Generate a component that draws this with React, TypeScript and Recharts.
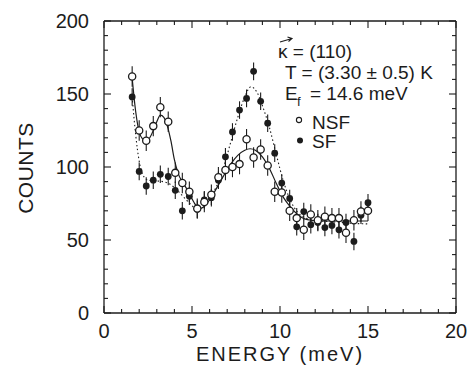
import { ComposedChart, Scatter, Line, XAxis, YAxis, ErrorBar } from 'recharts';

// measured points (energy in meV, counts)
const energy = [1.6, 2.0, 2.4, 2.8, 3.2, 3.65, 4.05, 4.45, 4.85, 5.3, 5.7, 6.1, 6.5, 6.9, 7.3, 7.7, 8.1, 8.5, 8.9, 9.3, 9.7, 10.1, 10.55, 10.95, 11.35, 11.75, 12.15, 12.55, 12.95, 13.35, 13.75, 14.2, 14.6, 15.0];
const nsfCounts = [162, 125, 118, 128, 141, 131, 96, 89, 83, 71.5, 76, 81, 93, 98, 100, 102, 119, 106.5, 112, 101, 83, 82.5, 70, 65, 57, 67.5, 63.5, 66, 65, 65, 55, 63.5, 69.5, 70];
const sfCounts = [148, 97, 87, 91, 95, 93.5, 84, 70, 80, 71, 77.5, 79, 91, 107, 124, 139, 147, 165.5, 145, 130, 109.5, 89, 78.5, 59, 69.5, 60.5, 62, 58.5, 60, 57, 62, 49, 67, 75.5];
const nsfErr = 7;
const sfErr = 6;

// fitted curves
const nsfFitEnergy = [1.6, 1.8, 2.0, 2.2, 2.4, 2.6, 2.8, 3.0, 3.2, 3.4, 3.6, 3.8, 4.0, 4.2, 4.5, 4.8, 5.1, 5.4, 5.7, 6.0, 6.4, 6.8, 7.2, 7.6, 8.0, 8.3, 8.6, 9.0, 9.4, 9.8, 10.2, 10.6, 11.0, 11.4, 11.8, 12.5, 13.5, 14.5, 15.0];
const nsfFitCounts = [161, 138, 124, 119, 117.5, 120, 125, 131, 135.5, 134, 128, 118, 105, 96, 89, 83, 76, 71.5, 73, 77.5, 85.5, 94, 102, 108, 111.5, 112.5, 111.5, 107, 99, 88.5, 79, 72.5, 67.5, 64.5, 63.5, 63, 63, 63, 63];
const sfFitEnergy = [1.6, 1.8, 2.0, 2.2, 2.5, 3.0, 3.5, 4.0, 4.4, 4.8, 5.2, 5.6, 6.0, 6.4, 6.8, 7.2, 7.6, 8.0, 8.35, 8.7, 9.0, 9.4, 9.8, 10.2, 10.6, 11.0, 11.4, 12.0, 13.0, 14.0, 15.0];
const sfFitCounts = [148, 122, 104, 95, 91, 90.5, 89.5, 86, 81, 76, 72, 73, 78.5, 87, 100, 117, 134, 148, 155, 151, 142, 127, 108, 90, 77, 69, 65.5, 63.5, 62.5, 61.5, 61];

const xTicks = [0, 1, 2, 3, 4, 5, 6, 7, 8, 9, 10, 11, 12, 13, 14, 15, 16, 17, 18, 19, 20];
const yTicks = [0, 10, 20, 30, 40, 50, 60, 70, 80, 90, 100, 110, 120, 130, 140, 150, 160, 170, 180, 190, 200];

const nsfData = energy.map((x, i) => ({ x, y: nsfCounts[i], err: nsfErr }));
const sfData = energy.map((x, i) => ({ x, y: sfCounts[i], err: sfErr }));
const nsfFit = nsfFitEnergy.map((x, i) => ({ x, y: nsfFitCounts[i] }));
const sfFit = sfFitEnergy.map((x, i) => ({ x, y: sfFitCounts[i] }));

const INK = '#1c1c1c';
const FONT = '"Liberation Sans", Arial, sans-serif';

function BottomTick({ x, y, payload }: any) {
  const major = payload.value % 5 === 0;
  return (
    <g>
      <line x1={x} y1={y} x2={x} y2={y - (major ? 7 : 4)} stroke={INK} strokeWidth={1.1} />
      {major && (
        <text x={x} y={y + 25} textAnchor="middle" fontSize={20} fill={INK} fontFamily={FONT}>
          {payload.value}
        </text>
      )}
    </g>
  );
}

function TopTick({ x, y, payload }: any) {
  const major = payload.value % 5 === 0;
  return <line x1={x} y1={y} x2={x} y2={y + (major ? 7 : 4)} stroke={INK} strokeWidth={1.1} />;
}

function LeftTick({ x, y, payload }: any) {
  const major = payload.value % 50 === 0;
  return (
    <g>
      <line x1={x} y1={y} x2={x + (major ? 7 : 4)} y2={y} stroke={INK} strokeWidth={1.1} />
      {major && (
        <text x={x - 15} y={y + 7} textAnchor="end" fontSize={20} fill={INK} fontFamily={FONT}>
          {payload.value}
        </text>
      )}
    </g>
  );
}

function RightTick({ x, y, payload }: any) {
  const major = payload.value % 50 === 0;
  return <line x1={x} y1={y} x2={x - (major ? 7 : 4)} y2={y} stroke={INK} strokeWidth={1.1} />;
}

const OpenCircle = (p: any) => (
  <circle cx={p.cx} cy={p.cy} r={3.6} fill="#fff" stroke={INK} strokeWidth={1.3} />
);
const FilledCircle = (p: any) => <circle cx={p.cx} cy={p.cy} r={3.4} fill={INK} />;

export default function App() {
  return (
    <div style={{ position: 'absolute', left: 0, top: 0, width: 471, height: 378, background: '#fff', fontFamily: FONT }}>
      <ComposedChart width={471} height={378} margin={{ top: 20, right: 10, bottom: 25, left: 44 }}>
        <XAxis
          type="number"
          dataKey="x"
          domain={[0, 20]}
          ticks={xTicks}
          interval={0}
          tick={<BottomTick />}
          tickSize={0}
          tickMargin={0}
          height={40}
          allowDataOverflow
          axisLine={{ stroke: INK, strokeWidth: 1.3 }}
        />
        <XAxis
          xAxisId="top"
          orientation="top"
          type="number"
          dataKey="x"
          domain={[0, 20]}
          ticks={xTicks}
          interval={0}
          tick={<TopTick />}
          tickSize={0}
          tickMargin={0}
          height={1}
          allowDataOverflow
          axisLine={{ stroke: INK, strokeWidth: 1.3 }}
        />
        <YAxis
          type="number"
          domain={[0, 200]}
          ticks={yTicks}
          interval={0}
          tick={<LeftTick />}
          tickSize={0}
          tickMargin={0}
          width={60}
          allowDataOverflow
          axisLine={{ stroke: INK, strokeWidth: 1.3 }}
        />
        <YAxis
          yAxisId="right"
          orientation="right"
          type="number"
          domain={[0, 200]}
          ticks={yTicks}
          interval={0}
          tick={<RightTick />}
          tickSize={0}
          tickMargin={0}
          width={5}
          allowDataOverflow
          axisLine={{ stroke: INK, strokeWidth: 1.3 }}
        />
        <Line data={sfFit} dataKey="y" type="monotone" stroke={INK} strokeWidth={1.1} strokeDasharray="1.5 2.5" dot={false} activeDot={false} isAnimationActive={false} />
        <Line data={nsfFit} dataKey="y" type="monotone" stroke={INK} strokeWidth={1.2} dot={false} activeDot={false} isAnimationActive={false} />
        <Scatter data={sfData} dataKey="y" shape={FilledCircle} isAnimationActive={false}>
          <ErrorBar dataKey="err" direction="y" width={0} stroke={INK} strokeWidth={1.1} isAnimationActive={false} />
        </Scatter>
        <Scatter data={nsfData} dataKey="y" shape={OpenCircle} isAnimationActive={false}>
          <ErrorBar dataKey="err" direction="y" width={0} stroke={INK} strokeWidth={1.1} isAnimationActive={false} />
        </Scatter>
      </ComposedChart>
      <svg width={471} height={378} style={{ position: 'absolute', left: 0, top: 0, pointerEvents: 'none' }}>
        <g fill={INK} fontFamily={FONT}>
          <text transform="translate(33,168) rotate(-90)" textAnchor="middle" fontSize={21} letterSpacing={0.5}>COUNTS</text>
          <text x={280} y={361} textAnchor="middle" fontSize={20} letterSpacing={2}>ENERGY (meV)</text>
          <text x={278} y={58} fontSize={19}>κ = (110)</text>
          <path d="M280 42 L292 38.5 M287.5 37 L292 38.5 L288.5 41.5" stroke={INK} strokeWidth={1.1} fill="none" />
          <text x={285} y={79} fontSize={19}>T = (3.30 ± 0.5) K</text>
          <text x={285} y={100} fontSize={19}>E</text>
          <text x={297} y={106} fontSize={13}>f</text>
          <text x={310} y={100} fontSize={19}>= 14.6 meV</text>
          <circle cx={299} cy={120} r={2.6} fill="#fff" stroke={INK} strokeWidth={1.1} />
          <text x={312} y={129} fontSize={19}>NSF</text>
          <circle cx={300} cy={140.5} r={3} fill={INK} />
          <text x={312} y={148} fontSize={19}>SF</text>
        </g>
      </svg>
    </div>
  );
}
